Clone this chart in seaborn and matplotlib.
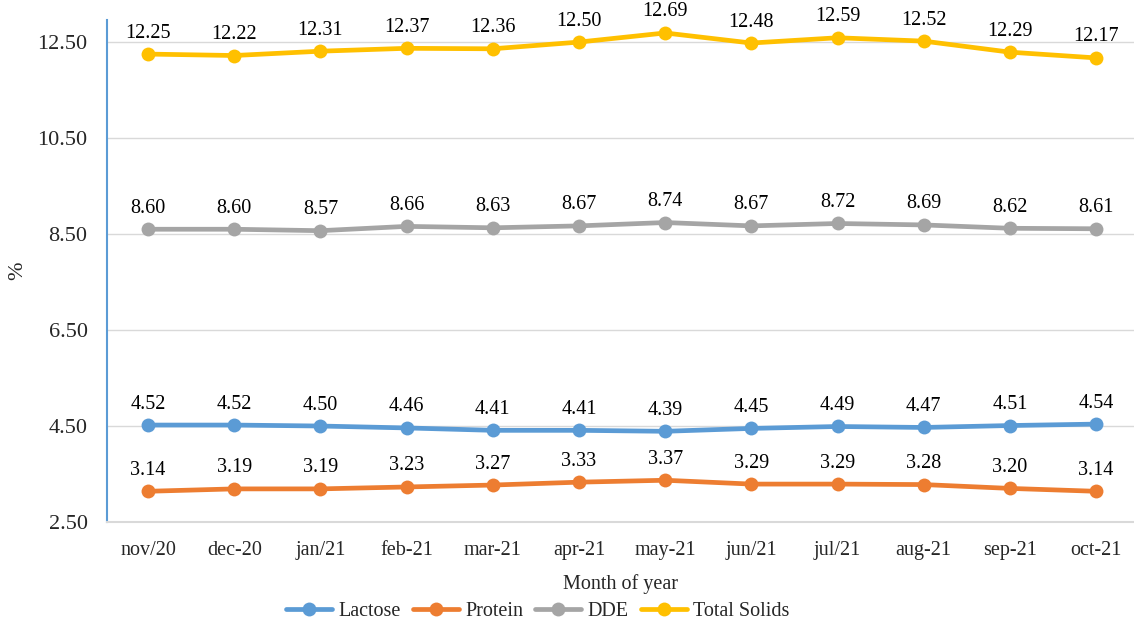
import pandas as pd
import matplotlib.pyplot as plt
import seaborn as sns

months = ['nov/20', 'dec-20', 'jan/21', 'feb-21', 'mar-21', 'apr-21',
          'may-21', 'jun/21', 'jul/21', 'aug-21', 'sep-21', 'oct-21']
lactose = [4.52, 4.52, 4.50, 4.46, 4.41, 4.41, 4.39, 4.45, 4.49, 4.47, 4.51, 4.54]
protein = [3.14, 3.19, 3.19, 3.23, 3.27, 3.33, 3.37, 3.29, 3.29, 3.28, 3.20, 3.14]
dde = [8.60, 8.60, 8.57, 8.66, 8.63, 8.67, 8.74, 8.67, 8.72, 8.69, 8.62, 8.61]
total_solids = [12.25, 12.22, 12.31, 12.37, 12.36, 12.50, 12.69, 12.48, 12.59, 12.52, 12.29, 12.17]
yticks = [2.5, 4.5, 6.5, 8.5, 10.5, 12.5]

series = {'Lactose': lactose, 'Protein': protein, 'DDE': dde,
          'Total Solids': total_solids}
colors = {'Lactose': '#5B9BD5', 'Protein': '#ED7D31', 'DDE': '#A5A5A5',
          'Total Solids': '#FFC000'}

rows = []
for name, vals in series.items():
    for m, v in zip(months, vals):
        rows.append({'Month': m, 'Value': v, 'Series': name})
df = pd.DataFrame(rows)

sns.set_theme(style='white')
plt.rcParams['font.family'] = ['Liberation Serif', 'DejaVu Serif']

fig = plt.figure(figsize=(11.34, 6.28), dpi=100)
ax = fig.add_axes([107 / 1134, 106 / 628, 1 - 107 / 1134, 502 / 628])

sns.lineplot(data=df, x='Month', y='Value', hue='Series', palette=colors,
             marker='o', markersize=10, markeredgewidth=0, linewidth=3.4,
             sort=False, ax=ax)

# value labels above every point
for name, vals in series.items():
    for i, v in enumerate(vals):
        ax.annotate(f'{v:.2f}', (i, v), xytext=(0, 21), textcoords='offset pixels',
                    ha='center', va='center', fontsize=14.5, color='black')

ax.set_xlim(-0.476, 11.44)
ax.set_ylim(2.5, 12.96)
ax.set_yticks(yticks)
ax.set_yticklabels([f'{t:.2f}' for t in yticks], fontsize=16)
ax.tick_params(axis='x', labelsize=14.5, length=0, pad=14)
ax.tick_params(axis='y', direction='in', length=6, color='#5B9BD5', width=1, pad=14)
ax.yaxis.grid(True, color='#D9D9D9', linewidth=1)
ax.set_axisbelow(True)
for s in ['top', 'right']:
    ax.spines[s].set_visible(False)
ax.spines['left'].set_color('#5B9BD5')
ax.spines['left'].set_linewidth(1.5)
ax.spines['bottom'].set_color('#D9D9D9')
ax.spines['bottom'].set_linewidth(1.5)

ax.set_xlabel('Month of year', fontsize=14.5, labelpad=10)
ax.set_ylabel('%', fontsize=16, va='center')
ax.yaxis.set_label_coords(-0.087, 0.5)

handles, labels = ax.get_legend_handles_labels()
ax.get_legend().remove()
fig.legend(handles, labels, loc='center', bbox_to_anchor=(0.474, 0.026), ncol=4,
           frameon=False, fontsize=14.5, handlelength=2.3, columnspacing=0.6,
           handletextpad=0.3)

fig.savefig('out.png', dpi=100)
